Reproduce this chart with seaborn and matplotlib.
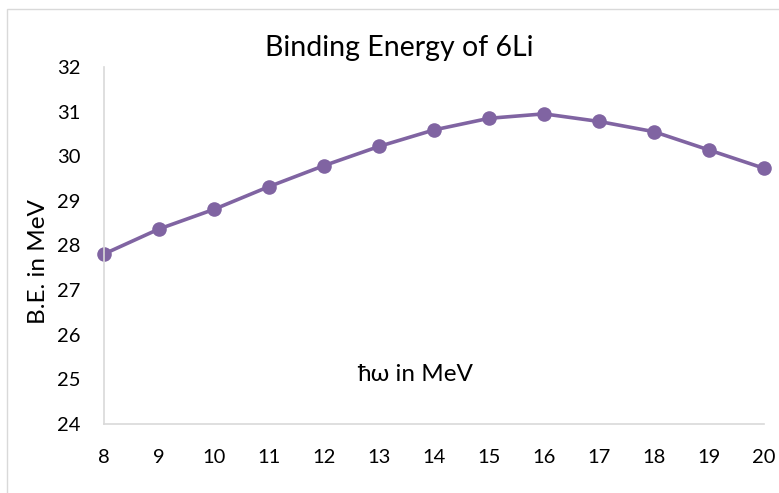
import matplotlib
matplotlib.use("Agg")
import matplotlib.pyplot as plt
import numpy as np
import pandas as pd
import seaborn as sns
from matplotlib.patches import Rectangle

# data
hbar_omega = [8, 9, 10, 11, 12, 13, 14, 15, 16, 17, 18, 19, 20]
binding_energy = [27.81, 28.37, 28.81, 29.32, 29.79, 30.22, 30.59,
                  30.85, 30.95, 30.78, 30.55, 30.14, 29.73]
y_ticks = [24, 25, 26, 27, 28, 29, 30, 31, 32]

sns.set_style("white")
plt.rcParams["font.family"] = ["Lato", "DejaVu Sans"]

purple = "#8064A2"
axis_grey = "#D9D9D9"
text_col = "#000000"

df = pd.DataFrame({"x": hbar_omega, "y": binding_energy})

fig = plt.figure(figsize=(7.79, 4.93), dpi=100)
ax = fig.add_axes([104 / 779, 69 / 493, 660 / 779, 357 / 493])

sns.lineplot(
    data=df, x="x", y="y", ax=ax,
    color=purple, linewidth=2.6,
    marker="o", markersize=10.5, markeredgewidth=0, markerfacecolor=purple,
)
for line in ax.lines:
    line.set_clip_on(False)

ax.set_xlim(8, 20)
ax.set_ylim(24, 32)
ax.set_xticks(hbar_omega)
ax.set_yticks(y_ticks)
ax.tick_params(axis="x", length=5, width=1.2, color=axis_grey, pad=13,
               labelsize=14.5, labelcolor=text_col, direction="out")
ax.tick_params(axis="y", length=0, pad=17, labelsize=14.5, labelcolor=text_col)

for side in ["top", "right"]:
    ax.spines[side].set_visible(False)
for side in ["left", "bottom"]:
    ax.spines[side].set_color(axis_grey)
    ax.spines[side].set_linewidth(1.2)

ax.set_xlabel("")
ax.set_ylabel("B.E. in MeV", fontsize=17.5, color=text_col)
ax.yaxis.set_label_coords(-0.084, 0.454)
ax.set_title("Binding Energy of 6Li", fontsize=20.5, color=text_col,
             x=0.447, pad=8)
ax.text(0.471, 0.14, "ħω in MeV", transform=ax.transAxes, fontsize=17.5,
        ha="center", va="center", color=text_col)

# chart frame
fig.patches.append(Rectangle((7 / 779, -0.1), 1.2, (493 - 9) / 493 + 0.1,
                             transform=fig.transFigure, fill=False,
                             edgecolor=axis_grey, linewidth=1.0))

fig.savefig("out.png", dpi=100)
